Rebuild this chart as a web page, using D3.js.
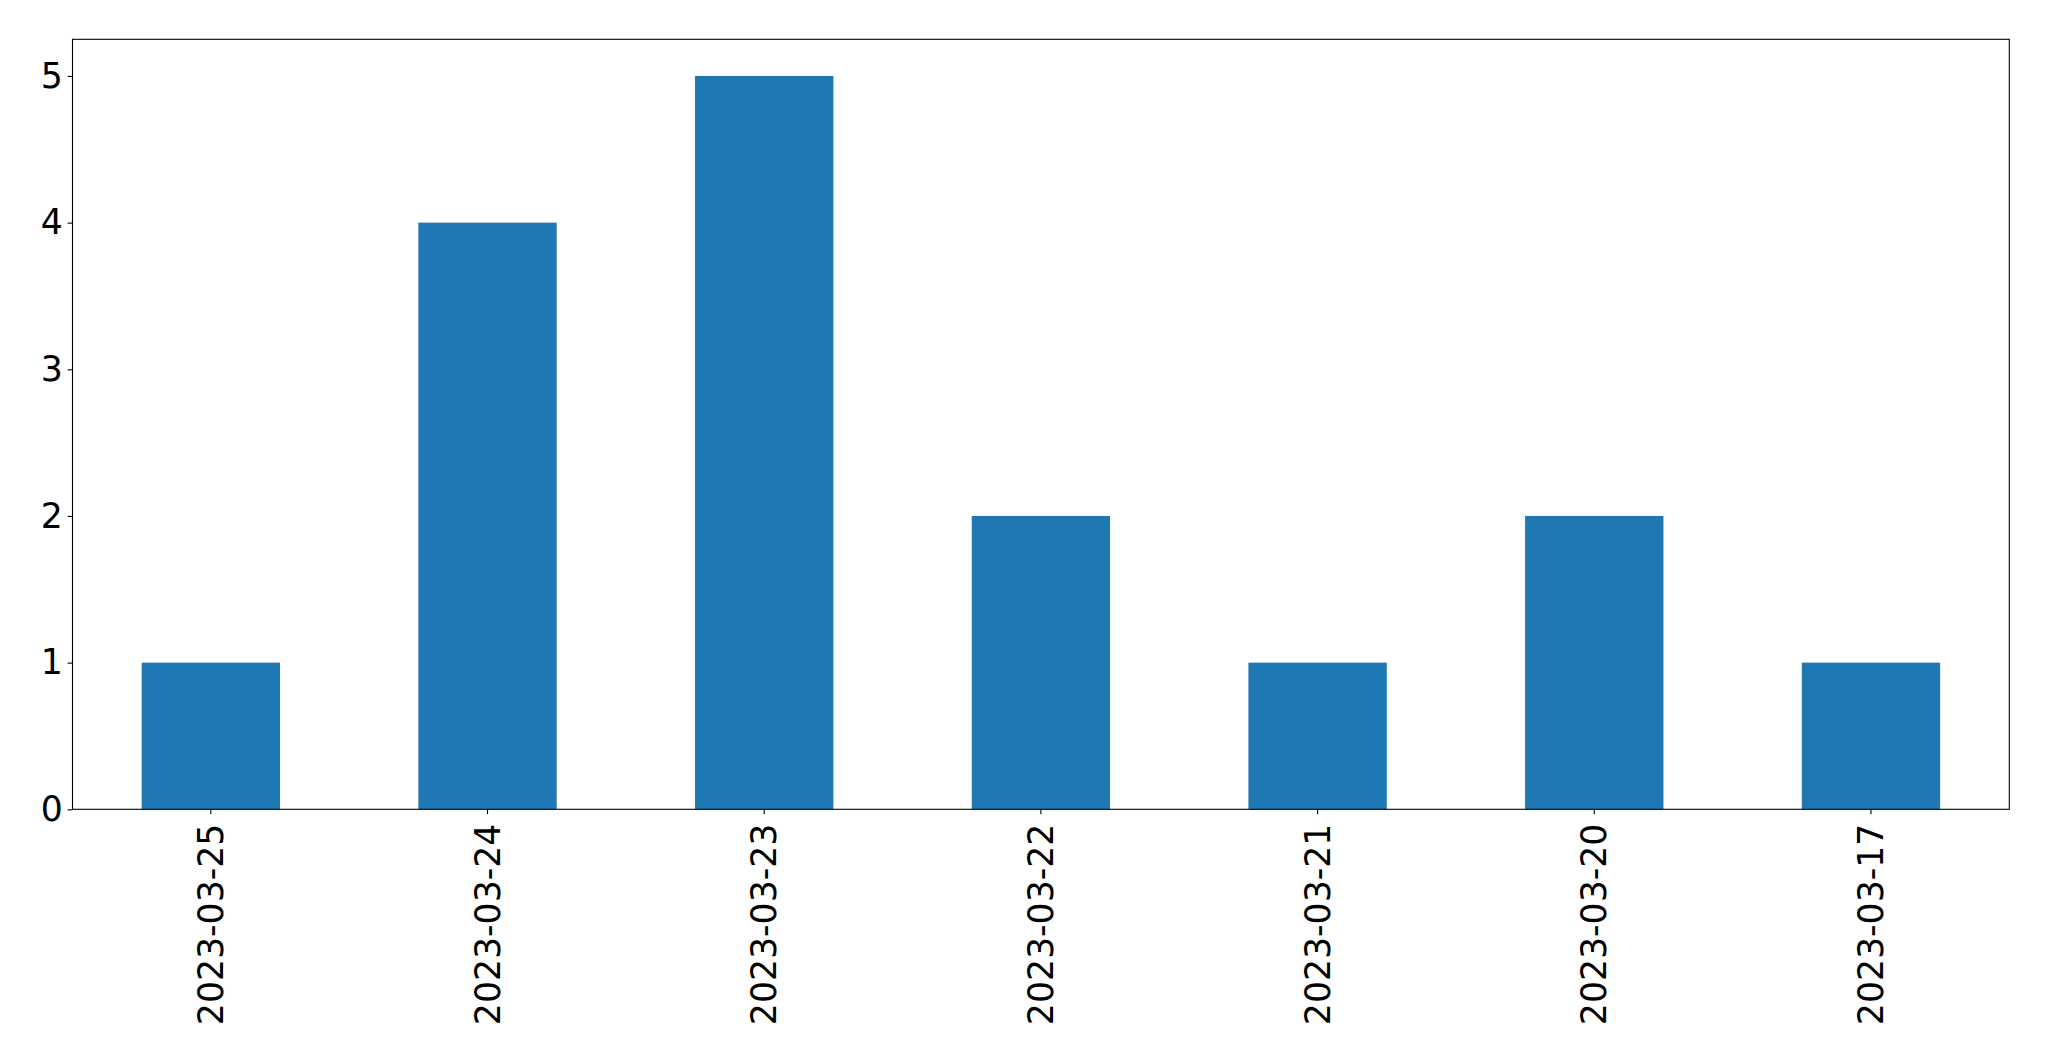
<!DOCTYPE html>
<html>
<head>
<meta charset="utf-8">
<script src="https://cdn.jsdelivr.net/npm/d3@7"></script>
<style>
  html, body { margin: 0; padding: 0; background: #fff; }
  svg { display: block; }
  text { font-family: "DejaVu Sans", sans-serif; fill: #000; }
</style>
</head>
<body>
<svg id="chart" width="2049" height="1061"></svg>
<script>
const categories = ["2023-03-25", "2023-03-24", "2023-03-23", "2023-03-22", "2023-03-21", "2023-03-20", "2023-03-17"];
const values = [1, 4, 5, 2, 1, 2, 1];
const yTicks = [0, 1, 2, 3, 4, 5];

const W = 2049, H = 1061;
const m = { left: 72.5, right: 2049 - 2009.3, top: 39.3, bottom: 1061 - 809.3 };
const fontSize = 34.7;

const svg = d3.select("#chart");
const x = d3.scaleBand().domain(categories).range([m.left, W - m.right]).paddingInner(0.5).paddingOuter(0.25);
const y = d3.scaleLinear().domain([0, 5.25]).range([H - m.bottom, m.top]);

svg.append("g").selectAll("rect").data(values).join("rect")
  .attr("x", (d, i) => x(categories[i]))
  .attr("y", d => y(d))
  .attr("width", x.bandwidth())
  .attr("height", d => y(0) - y(d))
  .attr("fill", "#1f77b4");

const yAxis = svg.append("g").attr("transform", `translate(${m.left},0)`)
  .call(d3.axisLeft(y).tickValues(yTicks).tickFormat(d3.format("d")).tickSize(4.9).tickPadding(4.9));
yAxis.select(".domain").remove();
yAxis.selectAll("text").style("font-size", fontSize + "px").attr("fill", "#000");
yAxis.selectAll("line").attr("stroke", "#000").attr("stroke-width", 1.1);

const xAxis = svg.append("g").attr("transform", `translate(0,${H - m.bottom})`)
  .call(d3.axisBottom(x).tickSize(4.9).tickPadding(4.9));
xAxis.select(".domain").remove();
xAxis.selectAll("line").attr("stroke", "#000").attr("stroke-width", 1.1);
xAxis.selectAll("text")
  .style("font-size", fontSize + "px").attr("fill", "#000")
  .attr("transform", "rotate(-90)")
  .attr("text-anchor", "end")
  .attr("x", -(4.9 + 4.9 + 4.5))
  .attr("y", 0)
  .attr("dy", "0.35em");

svg.append("rect")
  .attr("x", m.left).attr("y", m.top)
  .attr("width", W - m.right - m.left).attr("height", H - m.bottom - m.top)
  .attr("fill", "none").attr("stroke", "#000").attr("stroke-width", 1.1);
</script>
</body>
</html>
